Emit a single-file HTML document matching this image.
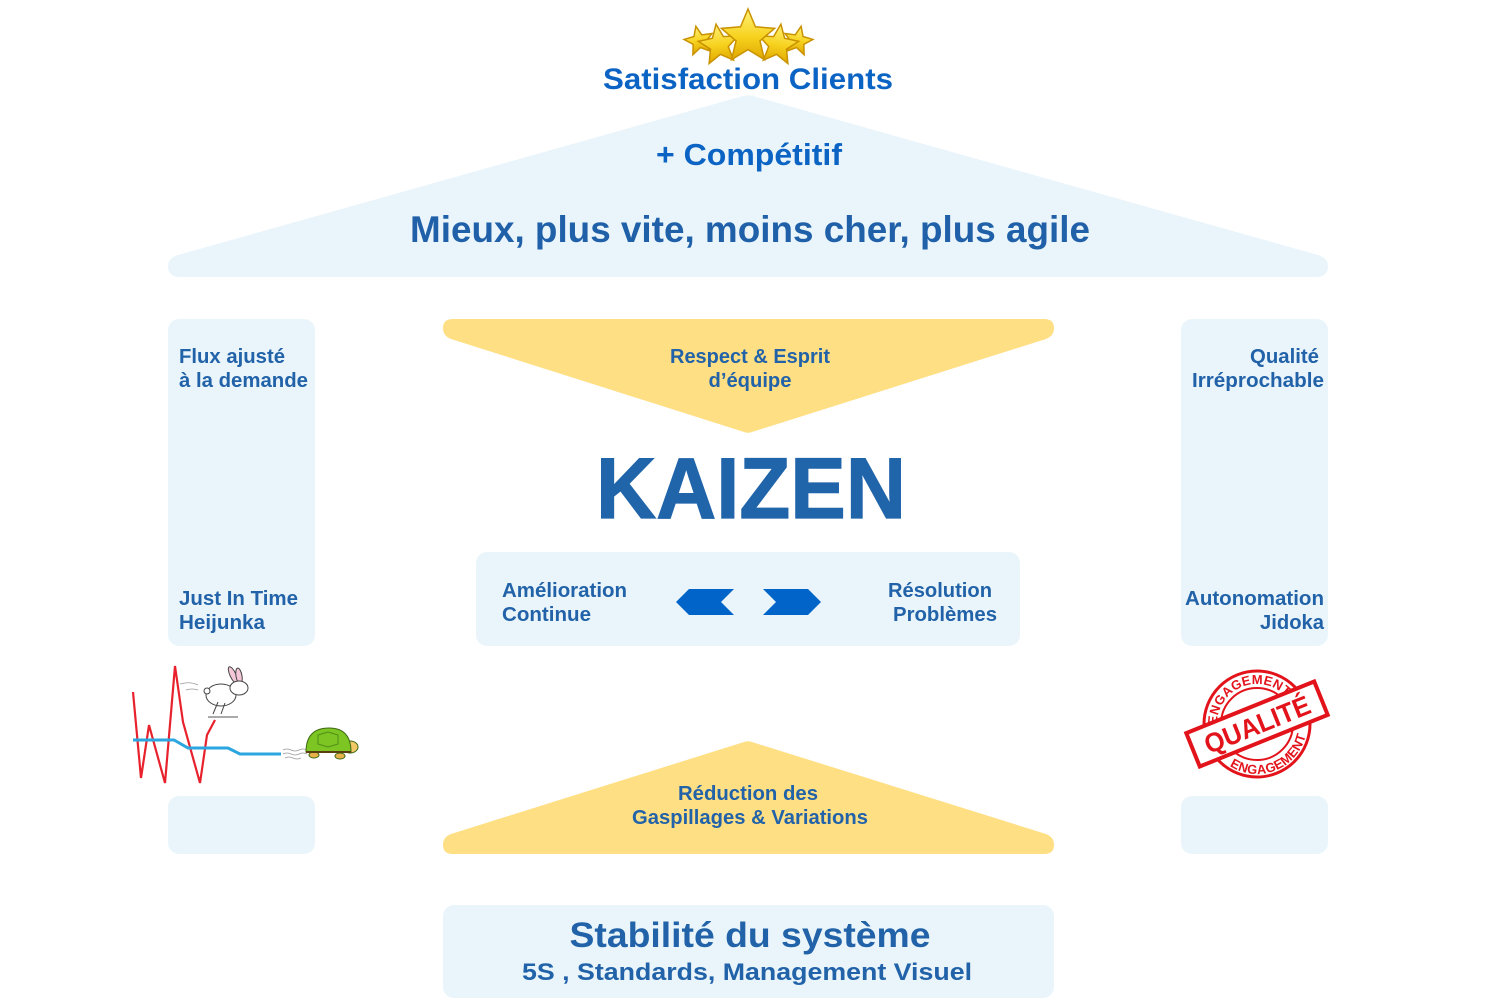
<!DOCTYPE html>
<html>
<head>
<meta charset="utf-8">
<style>
  html,body{margin:0;padding:0;background:#ffffff;}
  body{width:1500px;height:1000px;overflow:hidden;}
  svg{display:block;}
  text{font-family:"Liberation Sans", Arial, sans-serif;font-weight:bold;}
</style>
</head>
<body>
<svg width="1500" height="1000" viewBox="0 0 1500 1000" xmlns="http://www.w3.org/2000/svg">
  <defs>
    <linearGradient id="gold" x1="0" y1="0" x2="0" y2="1">
      <stop offset="0" stop-color="#FFF27A"/>
      <stop offset="0.55" stop-color="#F7D21E"/>
      <stop offset="1" stop-color="#E0A800"/>
    </linearGradient>
    <path id="arcTop" d="M -40 0 A 40 40 0 0 1 40 0"/>
    <path id="arcBot" d="M -50 0 A 50 50 0 0 0 50 0"/>
  </defs>

  <!-- Stars -->
  <g stroke="#C99200" stroke-width="1.5" fill="url(#gold)">
    <polygon transform="translate(699,41) rotate(-12) scale(15)" vector-effect="non-scaling-stroke" points="0,-1 0.265,-0.364 0.951,-0.309 0.428,0.139 0.588,0.809 0,0.45 -0.588,0.809 -0.428,0.139 -0.951,-0.309 -0.265,-0.364"/>
    <polygon transform="translate(798,41) rotate(12) scale(15)" vector-effect="non-scaling-stroke" points="0,-1 0.265,-0.364 0.951,-0.309 0.428,0.139 0.588,0.809 0,0.45 -0.588,0.809 -0.428,0.139 -0.951,-0.309 -0.265,-0.364"/>
    <polygon transform="translate(719,45) rotate(-8) scale(21)" vector-effect="non-scaling-stroke" points="0,-1 0.265,-0.364 0.951,-0.309 0.428,0.139 0.588,0.809 0,0.45 -0.588,0.809 -0.428,0.139 -0.951,-0.309 -0.265,-0.364"/>
    <polygon transform="translate(778,45) rotate(8) scale(21)" vector-effect="non-scaling-stroke" points="0,-1 0.265,-0.364 0.951,-0.309 0.428,0.139 0.588,0.809 0,0.45 -0.588,0.809 -0.428,0.139 -0.951,-0.309 -0.265,-0.364"/>
    <polygon transform="translate(748,37) scale(28)" vector-effect="non-scaling-stroke" points="0,-1 0.265,-0.364 0.951,-0.309 0.428,0.139 0.588,0.809 0,0.45 -0.588,0.809 -0.428,0.139 -0.951,-0.309 -0.265,-0.364"/>
  </g>

  <!-- Satisfaction Clients -->
  <text x="748" y="89" font-size="30" fill="#0B63C4" text-anchor="middle" textLength="290" lengthAdjust="spacingAndGlyphs">Satisfaction Clients</text>

  <!-- Roof -->
  <path d="M 180 277 L 1316 277 Q 1328 277 1328 266 Q 1328 258 1318 255 L 753 96 Q 748 94.5 743 96 L 178 255 Q 168 258 168 266 Q 168 277 180 277 Z" fill="#EAF5FB"/>
  <text x="749" y="165" font-size="31" fill="#0B63C4" text-anchor="middle" textLength="186" lengthAdjust="spacingAndGlyphs">+  Compétitif</text>
  <text x="750" y="242" font-size="37" fill="#1F60A8" text-anchor="middle" textLength="680" lengthAdjust="spacingAndGlyphs">Mieux, plus vite, moins cher, plus agile</text>

  <!-- Pillars -->
  <rect x="168" y="319" width="147" height="327" rx="11" fill="#EAF5FB"/>
  <rect x="1181" y="319" width="147" height="327" rx="11" fill="#EAF5FB"/>
  <rect x="168" y="796" width="147" height="58" rx="11" fill="#EAF5FB"/>
  <rect x="1181" y="796" width="147" height="58" rx="11" fill="#EAF5FB"/>

  <g font-size="20" fill="#2162A8">
    <text x="179" y="363" textLength="106" lengthAdjust="spacingAndGlyphs">Flux ajusté</text>
    <text x="179" y="387" textLength="129" lengthAdjust="spacingAndGlyphs">à la demande</text>
    <text x="179" y="605" textLength="119" lengthAdjust="spacingAndGlyphs">Just In Time</text>
    <text x="179" y="629" textLength="86" lengthAdjust="spacingAndGlyphs">Heijunka</text>

    <text x="1250" y="363" textLength="69" lengthAdjust="spacingAndGlyphs">Qualité</text>
    <text x="1192" y="387" textLength="132" lengthAdjust="spacingAndGlyphs">Irréprochable</text>
    <text x="1185" y="605" textLength="139" lengthAdjust="spacingAndGlyphs">Autonomation</text>
    <text x="1260" y="629" textLength="64" lengthAdjust="spacingAndGlyphs">Jidoka</text>
  </g>

  <!-- Yellow down triangle -->
  <path d="M 453 319 L 1044 319 Q 1054 319 1054 328 Q 1054 336 1046 339 L 752 432 Q 748 433.5 744 432 L 451 339 Q 443 336 443 328 Q 443 319 453 319 Z" fill="#FFDF84"/>
  <g font-size="20" fill="#2162A8" text-anchor="middle">
    <text x="750" y="363" textLength="160" lengthAdjust="spacingAndGlyphs">Respect &amp; Esprit</text>
    <text x="750" y="387" textLength="83" lengthAdjust="spacingAndGlyphs">d’équipe</text>
  </g>

  <!-- KAIZEN -->
  <text x="751" y="518" font-size="86" fill="#2064AA" stroke="#2064AA" stroke-width="1.2" text-anchor="middle" textLength="310" lengthAdjust="spacingAndGlyphs">KAIZEN</text>

  <!-- Middle box -->
  <rect x="476" y="552" width="544" height="94" rx="11" fill="#EAF5FB"/>
  <g font-size="20" fill="#2162A8">
    <text x="502" y="597" textLength="125" lengthAdjust="spacingAndGlyphs">Amélioration</text>
    <text x="502" y="621" textLength="89" lengthAdjust="spacingAndGlyphs">Continue</text>
    <text x="888" y="597" textLength="104" lengthAdjust="spacingAndGlyphs">Résolution</text>
    <text x="893" y="621" textLength="104" lengthAdjust="spacingAndGlyphs">Problèmes</text>
  </g>
  <polygon points="676,602 689,589 734,589 721,602 734,615 689,615" fill="#0064C8"/>
  <polygon points="763,589 808,589 821,602 808,615 763,615 776,602" fill="#0064C8"/>

  <!-- Yellow up triangle -->
  <path d="M 453 854 L 1044 854 Q 1054 854 1054 845 Q 1054 837 1046 834 L 752 742 Q 748 740.5 744 742 L 451 834 Q 443 837 443 845 Q 443 854 453 854 Z" fill="#FFDF84"/>
  <g font-size="20" fill="#2162A8" text-anchor="middle">
    <text x="748" y="800" textLength="140" lengthAdjust="spacingAndGlyphs">Réduction des</text>
    <text x="750" y="824" textLength="236" lengthAdjust="spacingAndGlyphs">Gaspillages &amp; Variations</text>
  </g>

  <!-- Base -->
  <rect x="443" y="905" width="611" height="93" rx="11" fill="#EAF5FB"/>
  <text x="750" y="947" font-size="35" fill="#2162A8" text-anchor="middle" textLength="361" lengthAdjust="spacingAndGlyphs">Stabilité du système</text>
  <text x="747" y="980" font-size="24" fill="#2162A8" text-anchor="middle" textLength="450" lengthAdjust="spacingAndGlyphs">5S , Standards, Management Visuel</text>

  <!-- Hare & tortoise graph -->
  <polyline points="133,692 141,778 149,725 165,783 175,666 183,722 200,783 207,735 215,720" fill="none" stroke="#E8222C" stroke-width="2.2" stroke-linejoin="miter"/>
  <polyline points="133,740 174,740 188,748 228,748 240,754 281,754" fill="none" stroke="#2BA6E0" stroke-width="3"/>
  <g stroke="#999" stroke-width="0.8" fill="none">
    <path d="M 283 750 q 4 -2 8 0 t 8 0 t 8 0"/>
    <path d="M 283 754 q 4 -2 8 0 t 8 0 t 8 0"/>
    <path d="M 285 758 q 4 -2 8 0 t 8 0"/>
    <path d="M 180 684 q 10 -3 18 1"/>
    <path d="M 186 690 q 6 -2 12 0"/>
  </g>
  <!-- rabbit -->
  <g stroke="#444" stroke-width="1" >
    <ellipse cx="233" cy="675" rx="3" ry="9" transform="rotate(-25 233 675)" fill="#F4C7D8"/>
    <ellipse cx="239" cy="676" rx="3" ry="8" transform="rotate(-10 239 676)" fill="#F4C7D8"/>
    <ellipse cx="221" cy="695" rx="15" ry="11" fill="#ffffff"/>
    <ellipse cx="239" cy="688" rx="9" ry="7" fill="#ffffff"/>
    <path d="M 218 702 l -5 12 M 225 703 l -4 11" fill="none"/>
    <circle cx="207" cy="691" r="3" fill="#fff"/>
  </g>
  <line x1="208" y1="717" x2="238" y2="717" stroke="#777" stroke-width="1.2"/>
  <!-- turtle -->
  <g stroke="#3E6A12" stroke-width="1">
    <ellipse cx="314" cy="755" rx="5" ry="3" fill="#E8B24A"/>
    <ellipse cx="340" cy="756" rx="5" ry="3" fill="#E8B24A"/>
    <ellipse cx="350" cy="747" rx="8" ry="6" fill="#F2C867"/>
    <path d="M 306 752 Q 306 728 329 728 Q 351 728 351 752 Z" fill="#7CC522"/>
    <path d="M 318 735 l 10 -3 l 10 3 l 0 9 l -10 3 l -10 -3 Z" fill="none" stroke="#4F8E18"/>
    <line x1="306" y1="752" x2="351" y2="752" stroke="#5A3E10" stroke-width="2"/>
  </g>

  <!-- Qualité stamp -->
  <g transform="translate(1257,724)" fill="#E3131B">
    <circle r="53" fill="none" stroke="#E3131B" stroke-width="3"/>
    <circle r="36" fill="none" stroke="#E3131B" stroke-width="2"/>
    <g transform="rotate(-22)">
      <text font-size="13" letter-spacing="0.3"><textPath href="#arcTop" startOffset="50%" text-anchor="middle">ENGAGEMENT</textPath></text>
      <text font-size="13" letter-spacing="0.3"><textPath href="#arcBot" startOffset="50%" text-anchor="middle">ENGAGEMENT</textPath></text>
      <rect x="-69" y="-18" width="138" height="36" fill="#ffffff" stroke="#E3131B" stroke-width="4"/>
      <text x="0" y="10" font-size="27" text-anchor="middle" textLength="112" lengthAdjust="spacingAndGlyphs">QUALITÉ</text>
    </g>
  </g>
</svg>
</body>
</html>
